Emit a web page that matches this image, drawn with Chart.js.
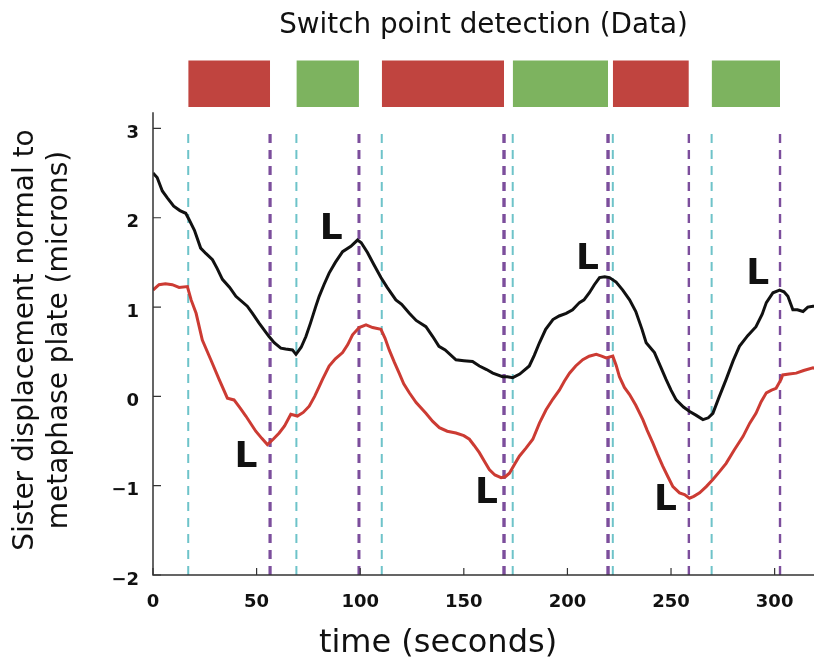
<!DOCTYPE html>
<html><head><meta charset="utf-8">
<script src="https://cdn.jsdelivr.net/npm/chart.js@4"></script>
<style>html,body{margin:0;padding:0;background:#fff;overflow:hidden;}</style>
</head><body>
<canvas id="c" width="814" height="663"></canvas>
<script>
// ---------- DATA ----------
const blackTime = [0,2,4.5,7,10,13,15.8,17.4,20,23,25.5,28.7,31,33.5,37,40,45.5,48,51.2,56,58.5,61.7,64,67.3,69,71.5,73.8,76,78.6,80.2,82.5,85,88,91.5,95.5,98.7,100.5,103.5,106.5,110,113,117.2,120,123.7,127,131.7,135,138,141,146.2,150,154.2,157.5,161,164,168.7,171,173.6,177,181.6,184,186.5,189.5,193,196,199.4,202.5,205.8,208,210.6,213,215.5,218,220.3,223.5,226.7,230,233,236,238,242,245,247.6,250,252.5,256,259,262,265.4,268,270.2,273,276.6,280,283,287,291,294,296,299.2,302.4,304.5,306.4,308.8,311,313.7,316,318.5,320];
const blackValues = [2.50,2.45,2.30,2.22,2.13,2.08,2.05,1.98,1.86,1.66,1.60,1.53,1.43,1.31,1.22,1.12,1.01,0.93,0.82,0.67,0.60,0.54,0.53,0.52,0.47,0.55,0.67,0.82,1.01,1.12,1.25,1.38,1.50,1.62,1.68,1.75,1.72,1.61,1.48,1.33,1.22,1.08,1.03,0.93,0.85,0.78,0.67,0.56,0.52,0.41,0.40,0.39,0.34,0.30,0.26,0.22,0.22,0.21,0.25,0.34,0.46,0.60,0.75,0.86,0.90,0.93,0.97,1.05,1.08,1.16,1.25,1.33,1.34,1.33,1.28,1.19,1.08,0.95,0.75,0.60,0.49,0.33,0.19,0.07,-0.04,-0.12,-0.17,-0.21,-0.26,-0.24,-0.19,-0.02,0.19,0.40,0.56,0.68,0.78,0.92,1.05,1.16,1.19,1.17,1.12,0.97,0.97,0.95,1.00,1.01,1.01];
const redTime = [0,2.9,6,9.3,12.6,16.6,18.4,20.8,23.8,27.9,31.9,35.9,39.1,42,44.8,49.6,52.5,55.2,58,60.9,63.5,66.5,69.7,72.5,75.4,78,80.2,81.8,85,88,91.5,94,96.3,99.5,102.8,106,110,112,114,116.5,118.8,121,123.7,127,131.7,135,138.2,142,146.2,150,152.7,155,157.5,160,162.3,165,168,170,172,174.5,176.8,180,183.3,186.5,189.7,193,196.1,198.5,201,204,207.4,210.5,213.9,216.5,218.7,221.9,223.5,225.1,227.5,230,233,236.4,238.5,241.2,243.5,246,248.5,250.9,254.1,256.5,258.9,261,263.8,267,270.2,273.5,276.6,280.5,284.7,288,291,293.5,296,298.5,300.7,303.1,303.9,307,310.4,314,318.5,320];
const redValues = [1.19,1.25,1.26,1.25,1.22,1.23,1.08,0.93,0.63,0.41,0.19,-0.02,-0.04,-0.13,-0.22,-0.39,-0.47,-0.54,-0.48,-0.41,-0.33,-0.20,-0.22,-0.18,-0.11,0.00,0.11,0.19,0.34,0.42,0.49,0.58,0.69,0.77,0.80,0.77,0.75,0.65,0.52,0.38,0.26,0.14,0.04,-0.07,-0.19,-0.28,-0.35,-0.39,-0.41,-0.44,-0.48,-0.55,-0.63,-0.73,-0.82,-0.88,-0.91,-0.90,-0.86,-0.76,-0.67,-0.58,-0.48,-0.30,-0.15,-0.03,0.07,0.17,0.26,0.34,0.41,0.45,0.47,0.45,0.43,0.45,0.35,0.22,0.10,0.02,-0.10,-0.26,-0.38,-0.52,-0.65,-0.78,-0.90,-1.01,-1.08,-1.10,-1.14,-1.12,-1.08,-1.01,-0.93,-0.84,-0.75,-0.60,-0.45,-0.30,-0.19,-0.06,0.04,0.07,0.09,0.19,0.24,0.25,0.26,0.29,0.32,0.31];
// switch points: phase start (cyan) and phase end (purple)
const switchStart = [17, 69.2, 110.4, 173.6, 221.9, 269.6];
const switchEnd   = [56.5, 99.4, 169.4, 219.6, 258.6, 302.6];
const phaseState  = [1, 2, 1, 2, 1, 2];
// "L" annotations (time, value)
const markTime  = [86, 44.9, 160.9, 209.7, 247.3, 291.8];
const markValue = [1.87, -0.69, -1.09, 1.53, -1.17, 1.36];
const markText  = ['L','L','L','L','L','L'];
const xTickValues = [0, 50, 100, 150, 200, 250, 300];
const yTickValues = [-2, -1, 0, 1, 2, 3];

// ---------- STYLE ----------
const FONT = "'DejaVu Sans', Verdana, sans-serif";
const phaseColor = {1: '#C0443F', 2: '#7DB35F'};
const CYAN = '#6EC3C9', PURPLE = '#7C4E9C';
const purpleWidth = [3.2, 3, 3.4, 3.4, 2.4, 2.4];
const BAR_LOW = 3.24, BAR_HIGH = 3.76, AXIS_TOP = 3.18;

const datasets = [];
datasets.push({label:'sister1', data: blackTime.map((t,i)=>({x:t,y:blackValues[i]})), borderColor:'#111111', borderWidth:3, pointRadius:0, showLine:true, order:0, tension:0});
datasets.push({label:'sister2', data: redTime.map((t,i)=>({x:t,y:redValues[i]})), borderColor:'#CC3B33', borderWidth:3, pointRadius:0, showLine:true, order:1, tension:0});
switchStart.forEach((t,i)=>{
  datasets.push({label:'start'+i, data:[{x:t,y:-2},{x:t,y:3}], borderColor:CYAN, borderWidth:2, borderDash:[9,7], pointRadius:0, showLine:true, order:5});
});
switchEnd.forEach((t,i)=>{
  datasets.push({label:'end'+i, data:[{x:t,y:-2},{x:t,y:3}], borderColor:PURPLE, borderWidth:purpleWidth[i], borderDash:[9,7], pointRadius:0, showLine:true, order:4});
});
phaseState.forEach((p,i)=>{
  datasets.push({label:'phase'+i, data:[{x:switchStart[i],y:BAR_LOW},{x:switchEnd[i],y:BAR_LOW}], borderWidth:0, borderColor:'rgba(0,0,0,0)', backgroundColor:phaseColor[p], fill:{value:BAR_HIGH}, pointRadius:0, showLine:true, order:6});
});

const decor = {
  id:'decor',
  afterDatasetsDraw(chart){
    const {ctx, chartArea:a, scales:{x,y}} = chart;
    ctx.save();
    // axes lines
    ctx.strokeStyle = '#333'; ctx.lineWidth = 1.5;
    ctx.beginPath();
    ctx.moveTo(a.left, y.getPixelForValue(AXIS_TOP)); ctx.lineTo(a.left, a.bottom); ctx.lineTo(a.right, a.bottom);
    ctx.stroke();
    ctx.lineWidth = 1.2;
    ctx.beginPath();
    xTickValues.forEach(v=>{ const px = x.getPixelForValue(v); ctx.moveTo(px, a.bottom); ctx.lineTo(px, a.bottom-7); });
    yTickValues.forEach(v=>{ const py = y.getPixelForValue(v); ctx.moveTo(a.left, py); ctx.lineTo(a.left+8, py); });
    ctx.stroke();
    // L marks
    ctx.fillStyle = '#111';
    ctx.font = "bold 36px " + FONT;
    ctx.textAlign = 'center'; ctx.textBaseline = 'middle';
    markText.forEach((s,i)=> ctx.fillText(s, x.getPixelForValue(markTime[i]), y.getPixelForValue(markValue[i])));
    // axis titles
    ctx.font = "32px " + FONT;
    ctx.fillText('time (seconds)', 438, 644);
    ctx.save();
    ctx.translate(26, 340); ctx.rotate(-Math.PI/2);
    ctx.font = "28px " + FONT;
    ctx.fillText('Sister displacement normal to', 0, 0);
    ctx.fillText('metaphase plate (microns)', 0, 34);
    ctx.restore();
    ctx.restore();
  }
};

new Chart(document.getElementById('c'), {
  type:'scatter',
  data:{datasets},
  options:{
    responsive:false, animation:false,
    layout:{padding:{left:0,right:0,top:0,bottom:0}},
    plugins:{
      legend:{display:false}, tooltip:{enabled:false},
      title:{display:true, text:'Switch point detection (Data)', fullSize:false, color:'#111',
        font:{family:FONT, size:27.8, weight:'normal'}, padding:{top:9, bottom:14.6}}
    },
    scales:{
      x:{type:'linear', min:0, max:319, grid:{display:false, drawTicks:false}, border:{display:false},
        afterBuildTicks:s=>{ s.ticks = xTickValues.map(v=>({value:v})); },
        afterFit:s=>{ s.height = 88; },
        ticks:{padding:17, color:'#111', maxRotation:0, autoSkip:false, font:{family:FONT, size:18, weight:'bold'}}},
      y:{type:'linear', min:-2, max:3.8, grid:{display:false, drawTicks:false}, border:{display:false},
        afterBuildTicks:s=>{ s.ticks = yTickValues.map(v=>({value:v})); },
        afterFit:s=>{ s.width = 153; },
        ticks:{padding:14, labelOffset:5, color:'#111', font:{family:FONT, size:18, weight:'bold'},
          callback:v=>String(v).replace('-', '\u2212')}}
    }
  },
  plugins:[decor]
});
</script>
</body></html>
